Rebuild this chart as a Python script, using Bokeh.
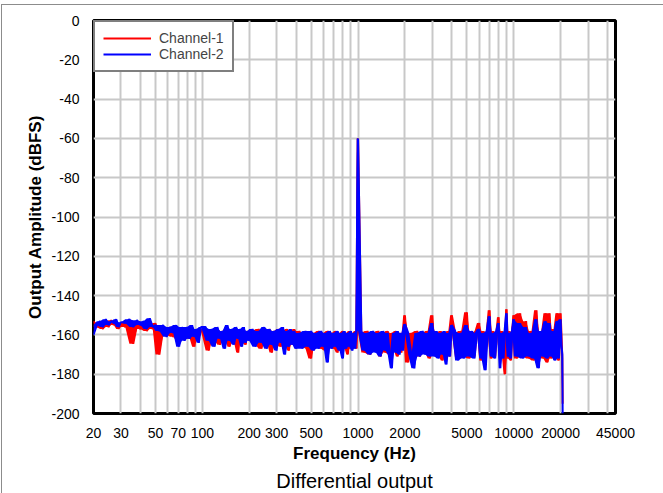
import numpy as np
from bokeh.plotting import figure
from bokeh.models import Range1d, FixedTicker, PrintfTickFormatter, Title, InlineStyleSheet
from bokeh.embed import file_html
from bokeh.resources import INLINE

# ---------------- data ----------------
# FFT frequency bins (Hz), grouped per region
freq_hz = (list(range(20, 31)) + list(range(32, 51, 2)) + list(range(53, 99, 3))
           + list(range(105, 201, 5)) + list(range(210, 401, 10)) + list(range(420, 1001, 20))
           + list(range(1050, 2001, 50)) + list(range(2100, 4001, 100))
           + list(range(4200, 10001, 200)) + list(range(10500, 20001, 500))
           + [20250, 20500, 20600])

ch1_dbfs = [
    # 20-30
    -153, -156, -154, -157, -153, -156, -152.5, -155, -153, -157, -154,
    # 32-50
    -156, -153, -164.5, -155, -157, -154, -158, -155, -157, -154,
    # 53-98
    -170, -157, -160, -156, -161, -157, -163, -158, -160, -157, -162, -158, -166, -157, -161, -158,
    # 105-200
    -157, -168, -158, -163, -157, -165, -158, -162, -156, -166, -158, -164, -157, -169, -158, -163, -157, -165, -158, -162,
    # 210-400
    -158, -165, -157, -167, -158, -164, -157, -169, -158, -165, -157, -166, -158, -164, -157, -168, -158, -165, -157, -166,
    # 420-1000
    -158, -166, -159, -167, -172, -159, -166, -158, -167, -159, -168, -158, -166, -159, -167,
    -158, -169, -159, -166, -158, -167, -159, -170, -158, -167, -159, -166, -158, -167, -60,
    # 1050-2000
    -159, -169, -158, -170, -159, -168, -158, -171, -159, -169, -158, -170, -159, -168, -158, -171, -159, -169, -160, -150,
    # 2100-4000
    -174, -159, -170, -158, -171, -159, -169, -158, -172, -150, -170, -159, -171, -158, -173, -159, -170, -158, -171, -150,
    # 4200-10000
    -159, -172, -158, -171, -148.5, -172, -159, -171, -158, -154, -173, -158, -171, -159, -147.5,
    -172, -158, -171, -159, -151, -172, -158, -171, -180, -147, -172, -158, -173, -159, -150,
    # 10500-20000
    -172, -149, -171, -153, -172, -158, -173, -147.5, -171, -158, -172, -149, -174, -149, -172, -157, -171, -149, -173, -149,
    # roll-off
    -160, -172, -195,
]

ch2_dbfs = [
    # 20-30
    -160, -155, -153, -156, -152, -155, -153, -154, -152, -156, -153.5,
    # 32-50
    -154, -152, -156, -152.5, -155, -153, -157, -151.5, -156, -155,
    # 53-98
    -158, -155, -161, -156, -159, -155, -166, -156, -163, -156, -162, -155, -161, -157, -164, -156,
    # 105-200
    -156, -163, -157, -166, -156, -162, -158, -167, -155, -163, -157, -165, -156, -162, -157, -166, -156, -164, -158, -163,
    # 210-400
    -157, -166, -158, -164, -156, -167, -157, -165, -158, -168, -157, -164, -156, -170, -158, -166, -157, -165, -158, -167,
    # 420-1000
    -159, -167, -158, -166, -158, -168, -159, -167, -158, -166, -159, -174, -158, -167, -159,
    -166, -158, -168, -159, -172, -158, -167, -159, -166, -158, -168, -159, -167, -158, -60,
    # 1050-2000
    -158, -168, -159, -170, -158, -169, -159, -171, -158, -168, -159, -170, -177, -159, -169, -158, -170, -159, -168, -154.5,
    # 2100-4000
    -159, -170, -177, -159, -171, -158, -170, -159, -171, -154, -171, -158, -172, -159, -170, -158, -175, -159, -171, -155,
    # 4200-10000
    -158, -173, -159, -172, -155, -171, -158, -172, -159, -157, -172, -159, -178, -158, -150.5,
    -171, -159, -172, -158, -154, -177, -159, -172, -158, -149, -171, -159, -172, -158, -152,
    # 10500-20000
    -171, -154, -172, -156, -171, -159, -172, -152, -177, -158, -171, -153, -172, -154, -171, -158, -173, -153, -172, -152,
    # roll-off
    -165, -170, -200,
]

series_labels = ["Channel-1", "Channel-2"]
series_colors = ["#ff0000", "#0000ff"]
freq_ticks = [20, 30, 50, 70, 100, 200, 300, 500, 1000, 2000, 5000, 10000, 20000, 45000]
freq_grid = ([20, 30, 40, 50, 60, 70, 80, 90, 100, 200, 300, 400, 500, 600, 700, 800, 900,
              1000, 2000, 3000, 4000, 5000, 6000, 7000, 8000, 9000, 10000, 20000, 30000, 40000])
amp_ticks = [-200, -180, -160, -140, -120, -100, -80, -60, -40, -20, 0]

FONT = "Liberation Sans"

p = figure(width=663, height=493, x_axis_type="log",
           x_range=Range1d(20, 45000), y_range=Range1d(-200, 0),
           output_backend="svg", toolbar_location=None,
           min_border_left=93, min_border_right=48, min_border_top=20, min_border_bottom=80,
           background_fill_color="white", border_fill_alpha=0)


def trace_band(values):
    """fill between consecutive FFT points so the dense trace renders as a solid band"""
    a = np.asarray(values, dtype=float)
    nxt = np.append(a[1:], a[-1])
    return np.minimum(a, nxt), np.maximum(a, nxt)


for vals, lab, col in ((ch1_dbfs, series_labels[0], series_colors[0]),
                       (ch2_dbfs, series_labels[1], series_colors[1])):
    lo, hi = trace_band(vals)
    p.varea(x=freq_hz, y1=lo, y2=hi, fill_color=col, fill_alpha=1)
    p.line(freq_hz, vals, line_color=col, line_width=2, legend_label=lab)

# axes
p.xaxis.ticker = FixedTicker(ticks=freq_ticks, minor_ticks=[])
p.xaxis.formatter = PrintfTickFormatter(format="%d")
p.yaxis.ticker = FixedTicker(ticks=amp_ticks, minor_ticks=[])
p.yaxis.formatter = PrintfTickFormatter(format="%d")
p.xgrid.ticker = FixedTicker(ticks=freq_grid, minor_ticks=[])
p.ygrid.ticker = FixedTicker(ticks=amp_ticks, minor_ticks=[])

for ax in (p.xaxis, p.yaxis):
    ax.axis_line_color = None
    ax.major_tick_line_color = None
    ax.minor_tick_line_color = None
    ax.major_label_text_font = FONT
    ax.major_label_text_font_size = "14px"
    ax.major_label_text_color = "black"
    ax.axis_label_text_font = FONT
    ax.axis_label_text_font_size = "17px"
    ax.axis_label_text_font_style = "bold"
    ax.axis_label_text_color = "black"

p.xaxis.axis_label = "Frequency (Hz)"
p.yaxis.axis_label = "Output Amplitude (dBFS)"
p.xaxis.major_label_standoff = 8
p.xaxis.axis_label_standoff = 3
p.yaxis.major_label_standoff = 8
p.yaxis.axis_label_standoff = 3

for g in (p.xgrid, p.ygrid):
    g.grid_line_color = "#c8c8c8"
    g.grid_line_width = 2

p.outline_line_color = "black"
p.outline_line_width = 3
p.outline_line_alpha = 1

# legend
lg = p.legend[0]
lg.location = "top_left"
lg.margin = 0
lg.padding = 8
lg.spacing = 0
lg.label_height = 16
lg.glyph_height = 16
lg.glyph_width = 48
lg.label_standoff = 8
lg.label_text_font = FONT
lg.label_text_font_size = "14px"
lg.border_line_color = "black"
lg.border_line_width = 2
lg.background_fill_alpha = 1

title = Title(text="Differential output", align="center", text_font=FONT,
              text_font_size="20px", text_font_style="normal", text_color="black",
              standoff=4)
p.add_layout(title, "below")

p.stylesheets = [InlineStyleSheet(css=(
    ":host { background-color: #ffffff; "
    "box-shadow: inset 1px 0 0 0 #ffffff, inset 0 4px 0 0 #ffffff, "
    "inset 2px 0 0 0 #8c8c8c, inset 0 5px 0 0 #8c8c8c; }"))]

open("out.html", "w").write(file_html(p, INLINE))
